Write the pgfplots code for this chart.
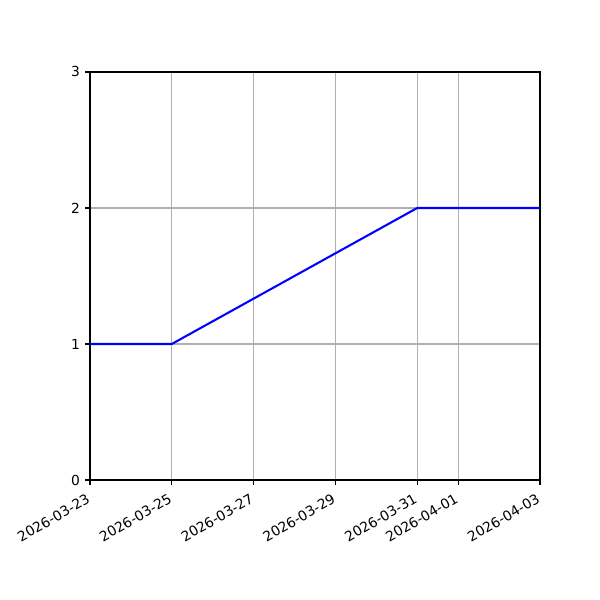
\documentclass[border=0pt]{standalone}
\usepackage{fontspec}
\setmainfont{DejaVu Sans}
\usepackage{pgfplots}
\pgfplotsset{compat=1.18}
\definecolor{gridgray}{HTML}{B0B0B0}
\begin{document}
\fontsize{10}{12}\selectfont
\begin{tikzpicture}
\path[use as bounding box] (-65.04pt,-86.72pt) rectangle (368.59pt,346.90pt);
\begin{axis}[
    at={(0,0)}, anchor=south west,
    scale only axis,
    width=325.2pt, height=294.9pt,
    xmin=0, xmax=11,
    ymin=0, ymax=3,
    xtick={0,2,4,6,8,9,11},
    xticklabels={2026-03-23,2026-03-25,2026-03-27,2026-03-29,2026-03-31,2026-04-01,2026-04-03},
    ytick={0,1,2,3},
    grid=major,
    grid style={gridgray, line width=0.8pt},
    axis line style={line width=0.8pt},
    tick style={black, line width=0.8pt},
    tick align=outside,
    major tick length=3.5pt,
    xtick pos=bottom, ytick pos=left,
    xticklabel style={rotate=30, anchor=north east, inner sep=0pt, xshift=-5.5pt, yshift=-3.5pt, font=\fontsize{10}{12}\selectfont},
    yticklabel style={anchor=east, inner sep=0pt, xshift=-3.5pt, font=\fontsize{10}{12}\selectfont},
    /pgf/number format/assume math mode=true,
]
\addplot[blue, line width=1.5pt, line join=round] coordinates {
    (0, 1)
    (2, 1)
    (8, 2)
    (11, 2)
};
\end{axis}
\end{tikzpicture}
\end{document}
